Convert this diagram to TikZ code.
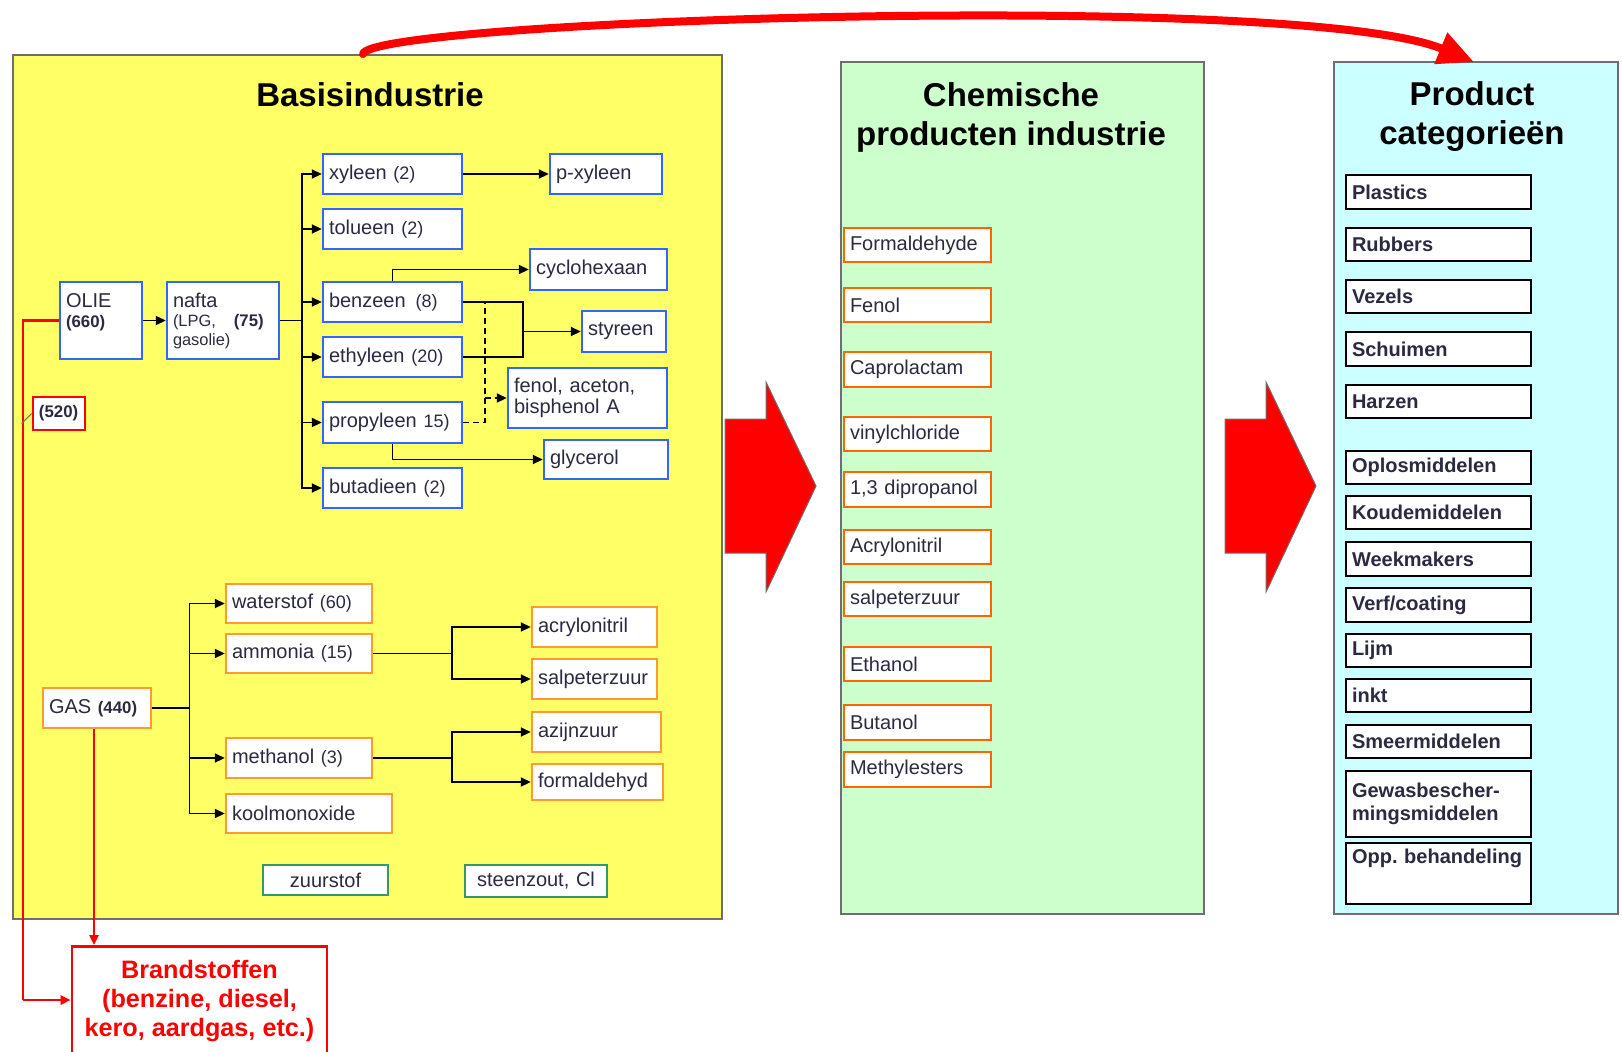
\documentclass[tikz,border=0pt]{standalone}
\usepackage{fontspec}
\setmainfont{Liberation Sans}
\frenchspacing
\usetikzlibrary{arrows.meta,calc}
\definecolor{ylw}{HTML}{FFFF66}
\definecolor{grn}{HTML}{CCFFCC}
\definecolor{cyn}{HTML}{CCFFFF}
\definecolor{bblue}{HTML}{3366FF}
\definecolor{borange}{HTML}{FF9933}
\definecolor{rorange}{HTML}{FF6600}
\definecolor{bgreen}{HTML}{339966}
\definecolor{txt}{HTML}{2A2A40}
\definecolor{panel}{HTML}{6E6E6E}
\newcommand\numtxt[1]{{\fontsize{9}{10}\selectfont #1}}
\newcommand\numbold[1]{{\fontsize{8.4}{10}\selectfont\bfseries #1}}
\newcommand\mybox[7]{%
 \pgfmathsetmacro\mbW{(#5-#3)*0.5}%
 \pgfmathsetmacro\mbH{(#6-#4)*0.5}%
 \pgfmathsetmacro\mbT{(#5-#3)*0.5-6}%
 \node[#1, minimum width=\mbW pt, minimum height=\mbH pt, text width=\mbT pt] (#2) at ({(#3+#5)/2},{(#4+#6)/2}) {#7};}
\tikzset{
 bx/.style={draw, fill=white, inner xsep=3pt, inner ysep=1pt, align=left, text=txt, font=\fontsize{10}{11}\selectfont},
 bbox/.style={bx, draw=bblue, line width=1.2pt},
 obox/.style={bx, draw=borange, line width=1.2pt},
 rbox/.style={bx, draw=rorange, line width=1.2pt},
 gbox/.style={bx, draw=bgreen, line width=1.1pt, align=center},
 kbox/.style={bx, draw=black, line width=1.4pt, font=\fontsize{10}{11.3}\selectfont\bfseries},
 panelbox/.style={draw=panel, line width=1pt, inner sep=0pt, anchor=north west},
 conn/.style={line width=0.9pt, black},
 arr/.style={conn, -{Triangle[length=5pt,width=4.5pt]}},
 dsh/.style={dash pattern=on 3pt off 2pt},
 redln/.style={red, line width=1.3pt},
 redarr/.style={redln, -{Triangle[length=5pt,width=4.5pt]}},
 title/.style={font=\fontsize{16.5}{19.5}\selectfont\bfseries, align=center, text=black},
 blockarrow/.style={fill=red, draw=panel, line width=0.5pt}
}
\begin{document}
\begin{tikzpicture}[x=0.5pt,y=-0.5pt]
\useasboundingbox (0,0) rectangle (1622,1051);
\clip (0,0) rectangle (1622,1051);
% panels
\node[panelbox, fill=ylw, minimum width=354.5pt, minimum height=432pt] (basis) at (12,54) {};
\node[panelbox, fill=grn, minimum width=181.5pt, minimum height=426pt] (chem) at (840,61) {};
\node[panelbox, fill=cyn, minimum width=142pt, minimum height=426pt] (cyan) at (1333,61) {};
% block arrows
\draw[blockarrow] (725,419) -- (766,419) -- (766,382) -- (816,486) -- (766,592) -- (766,553) -- (725,553) -- cycle;
\draw[blockarrow] (1225,419) -- (1266,419) -- (1266,382) -- (1316,486) -- (1266,592) -- (1266,553) -- (1225,553) -- cycle;
% titles
\node[title] (t1) at (370,95) {Basisindustrie};
\node[title] (t2) at (1011,117) {Chemische\\producten industrie};
\node[title] (t3) at (1472,117) {Product\\categorieën};
% oil part
\mybox{bbox, font=\fontsize{10}{10}\selectfont}{olie}{60}{282}{142}{359}{OLIE\\\numbold{(660)}\\\mbox{}}
\mybox{bbox, font=\fontsize{10}{9.5}\selectfont}{nafta}{167}{282}{279}{359}{nafta\\{\fontsize{8.2}{9}\selectfont (LPG,}\hspace{9pt}\numbold{(75)}\\{\fontsize{8.2}{9}\selectfont gasolie)}}
\mybox{bx, draw=red, line width=1.4pt}{p520}{33}{397}{85}{430}{\numbold{(520)}}
\mybox{bbox}{xyleen}{323}{154}{462}{194}{xyleen \numtxt{(2)}}
\mybox{bbox}{tolueen}{323}{209}{462}{249}{tolueen \numtxt{(2)}}
\mybox{bbox}{benzeen}{323}{282}{462}{322}{benzeen\hspace{5pt}\numtxt{(8)}}
\mybox{bbox}{ethyleen}{323}{337}{462}{377}{ethyleen \numtxt{(20)}}
\mybox{bbox}{propyleen}{323}{402}{462}{443}{propyleen \numtxt{15)}}
\mybox{bbox}{butadieen}{323}{468}{462}{508}{butadieen \numtxt{(2)}}
\mybox{bbox}{pxyleen}{550}{154}{662}{194}{p-xyleen}
\mybox{bbox}{cyclo}{530}{249}{667}{290}{cyclohexaan}
\mybox{bbox}{styreen}{582}{311}{666}{352}{styreen}
\mybox{bbox, font=\fontsize{10}{10.8}\selectfont}{fenol}{508}{368}{667}{428}{fenol, aceton,\\bisphenol A}
\mybox{bbox}{glycerol}{544}{440}{668}{479}{glycerol}
% gas part
\mybox{obox}{gas}{43}{688}{151}{728}{GAS \numbold{(440)}}
\mybox{obox}{waterstof}{226}{584}{372}{623}{waterstof \numtxt{(60)}}
\mybox{obox}{ammonia}{226}{634}{372}{673}{ammonia \numtxt{(15)}}
\mybox{obox}{methanol}{226}{738}{372}{778}{methanol \numtxt{(3)}}
\mybox{obox}{koolmon}{226}{794}{392}{833}{koolmonoxide}
\mybox{obox}{acryl}{532}{607}{657}{647}{acrylonitril}
\mybox{obox}{salA}{532}{659}{657}{699}{salpeterzuur}
\mybox{obox}{azijn}{532}{712}{661}{752}{azijnzuur}
\mybox{obox}{formd}{532}{764}{663}{800}{formaldehyd}
\mybox{gbox}{zuurstof}{263}{865}{388}{895}{zuurstof}
\mybox{gbox}{steenzout}{465}{865}{607}{897}{steenzout, Cl}
% chemische producten
\mybox{rbox}{c1}{844}{228}{991}{262}{Formaldehyde}
\mybox{rbox}{c2}{844}{288}{991}{322}{Fenol}
\mybox{rbox}{c3}{844}{352}{991}{387}{Caprolactam}
\mybox{rbox}{c4}{844}{417}{991}{451}{vinylchloride}
\mybox{rbox}{c5}{844}{472}{991}{507}{1,3 dipropanol}
\mybox{rbox}{c6}{844}{530}{991}{564}{Acrylonitril}
\mybox{rbox}{c7}{844}{582}{991}{616}{salpeterzuur}
\mybox{rbox}{c8}{844}{647}{991}{681}{Ethanol}
\mybox{rbox}{c9}{844}{705}{991}{740}{Butanol}
\mybox{rbox}{c10}{844}{752}{991}{787}{Methylesters}
% product categorieen
\mybox{kbox}{k1}{1346}{175}{1531}{209}{Plastics}
\mybox{kbox}{k2}{1346}{228}{1531}{261}{Rubbers}
\mybox{kbox}{k3}{1346}{280}{1531}{313}{Vezels}
\mybox{kbox}{k4}{1346}{332}{1531}{366}{Schuimen}
\mybox{kbox}{k5}{1346}{385}{1531}{418}{Harzen}
\mybox{kbox}{k6}{1346}{451}{1531}{484}{Oplosmiddelen}
\mybox{kbox}{k7}{1346}{496}{1531}{529}{Koudemiddelen}
\mybox{kbox}{k8}{1346}{542}{1531}{576}{Weekmakers}
\mybox{kbox}{k9}{1346}{588}{1531}{622}{Verf/coating}
\mybox{kbox}{k10}{1346}{634}{1531}{667}{Lijm}
\mybox{kbox}{k11}{1346}{679}{1531}{712}{inkt}
\mybox{kbox}{k12}{1346}{725}{1531}{758}{Smeermiddelen}
\mybox{kbox}{k13}{1346}{771}{1531}{837}{Gewasbescher-\\mingsmiddelen}
\mybox{kbox}{k14}{1346}{843}{1531}{904}{\mbox{Opp. behandeling}\\[6pt]\mbox{}}
% brandstoffen
\node[draw=red, line width=1.3pt, fill=white, text=red, font=\fontsize{12.6}{14.5}\selectfont\bfseries, align=center, minimum width=127.5pt, inner ysep=7pt, anchor=north] (brand) at (199.5,945) {Brandstoffen\\(benzine, diesel,\\kero, aardgas, etc.)};
% coordinates
\coordinate (br1) at (302,320.5);
\coordinate (sj) at (523,331.5);
\coordinate (dtop) at (485,302);
\coordinate (dj) at (485,398);
\coordinate (gb) at (189.5,708);
\coordinate (aj) at (452,653.5);
\coordinate (mj) at (452,758);
\coordinate (rc) at (23,1000);
% oil connectors
\draw[arr] (olie.east) -- (nafta.west);
\draw[conn] (nafta.east) -- (br1);
\foreach \n in {xyleen,tolueen,benzeen,ethyleen,propyleen,butadieen}
  \draw[arr] (br1) |- (\n.west);
\draw[arr] (xyleen.east) -- (pxyleen.west);
\draw[arr] (benzeen.north) |- (cyclo.west);
\draw[conn] (benzeen.east) -| (sj);
\draw[conn] (ethyleen.east) -| (sj);
\draw[arr] (sj) -- (styreen.west);
\draw[conn,dsh] (propyleen.east) -| (dtop);
\draw[arr,dsh] (dj) -- (fenol.west);
\draw[arr] (propyleen.south) |- (glycerol.west);
% gas connectors
\draw[conn] (gas.east) -- (gb);
\foreach \n in {waterstof,ammonia,methanol,koolmon}
  \draw[arr] (gb) |- (\n.west);
\draw[conn] (ammonia.east) -- (aj);
\draw[arr] (aj) |- (acryl.west);
\draw[arr] (aj) |- (salA.west);
\draw[conn] (methanol.east) -- (mj);
\draw[arr] (mj) |- (azijn.west);
\draw[arr] (mj) |- (formd.west);
% red connectors
\draw[redln] (olie.west) -| (rc);
\draw[redarr] (rc) -- (rc -| brand.west);
\draw[redarr] ([xshift=-1.5pt]gas.south) -- ([xshift=-1.5pt]gas.south |- brand.north);
\draw[panel, line width=0.6pt] (p520.west) -- ++(-10,10);
% top curved arrow
\draw[red, line width=4pt, line cap=round, -{Triangle[length=18pt,width=16pt]}]
  ($(basis.north west)+(351,0)$) .. controls (370,20) and (1300,-10) .. ($(cyan.north west)+(141,1)$);
\end{tikzpicture}
\end{document}
